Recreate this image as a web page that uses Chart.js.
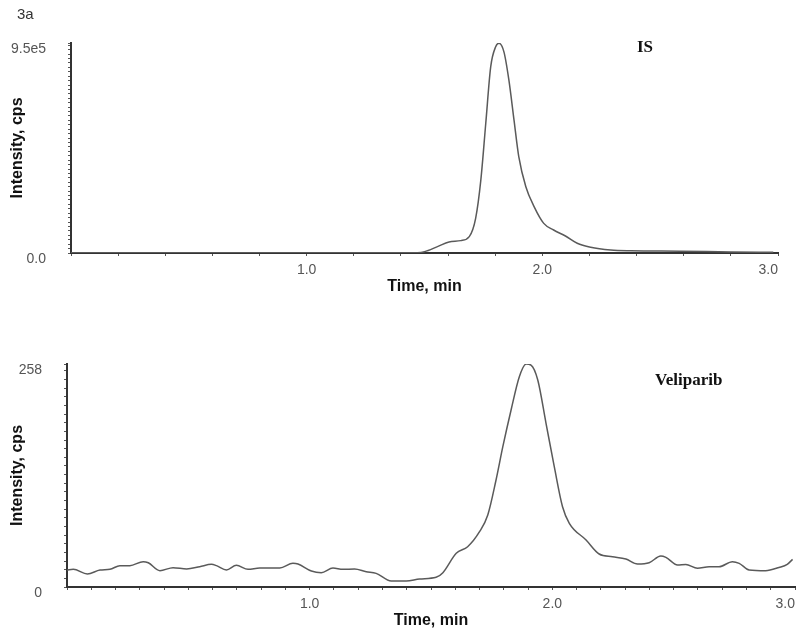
<!DOCTYPE html>
<html>
<head>
<meta charset="utf-8">
<script src="https://cdn.jsdelivr.net/npm/chart.js@4/dist/chart.umd.min.js"></script>
<style>
  html, body { margin: 0; padding: 0; background: #fff; }
  #wrap { position: relative; width: 800px; height: 636px; overflow: hidden; }
  canvas { position: absolute; left: 0; }
  .note { position: absolute; white-space: nowrap; }
</style>
</head>
<body>
<div id="wrap">
  <canvas id="c1" width="800" height="300" style="top:0"></canvas>
  <canvas id="c2" width="800" height="336" style="top:300px"></canvas>
  <div class="note" style="left:17px;top:5px;font:15px 'Liberation Sans',Arial,sans-serif;color:#333;">3a</div>
  <div class="note" style="left:637px;top:37px;font:bold 17px 'Liberation Serif','Times New Roman',serif;color:#111;">IS</div>
  <div class="note" style="left:655px;top:370px;font:bold 17px 'Liberation Serif','Times New Roman',serif;color:#111;">Veliparib</div>
</div>
<script>
// ---- Data ----
const isTime = [0, 0.3, 0.6, 0.9, 1.2, 1.40, 1.47, 1.50, 1.555, 1.604, 1.654, 1.69, 1.717, 1.739, 1.76, 1.781, 1.802, 1.816, 1.837, 1.858, 1.88, 1.90, 1.93, 1.965, 2.006, 2.048, 2.098, 2.148, 2.205, 2.29, 2.375, 2.585, 2.80, 2.98];
const isIntensity = [1000, 1000, 1000, 1500, 1000, 800, 1500, 6000, 29000, 50000, 56000, 74000, 157000, 330000, 587000, 843000, 933000, 949000, 910000, 783000, 600000, 436000, 300000, 210000, 134000, 104000, 77000, 44000, 26000, 13600, 10000, 8000, 5000, 3000];

const velTime = [0, 0.026, 0.084, 0.136, 0.177, 0.218, 0.259, 0.314, 0.335, 0.383, 0.437, 0.493, 0.547, 0.595, 0.616, 0.657, 0.698, 0.746, 0.794, 0.877, 0.931, 0.952, 1.007, 1.048, 1.096, 1.137, 1.185, 1.233, 1.274, 1.336, 1.398, 1.453, 1.521, 1.549, 1.604, 1.651, 1.70, 1.734, 1.768, 1.796, 1.83, 1.864, 1.892, 1.912, 1.94, 1.974, 2.008, 2.042, 2.07, 2.139, 2.193, 2.248, 2.303, 2.351, 2.399, 2.447, 2.468, 2.516, 2.55, 2.598, 2.646, 2.687, 2.742, 2.77, 2.811, 2.879, 2.934, 2.968, 2.99];
const velIntensity = [19.7, 20.5, 15, 19.7, 20.5, 24.7, 24.7, 29.3, 28, 18.9, 22.4, 20.8, 23.5, 26.2, 24.7, 19.7, 25.1, 20.5, 21.9, 21.9, 27.4, 26.6, 18.5, 16.6, 21.9, 20.5, 20.8, 17.7, 15.8, 6.9, 6.9, 9.3, 11.2, 16.6, 39, 46.6, 64, 83.3, 123.8, 162.3, 204.8, 243.3, 258, 256.8, 239.5, 189.4, 139.2, 92.9, 73.7, 54.4, 38.2, 35, 32.4, 26.6, 28.1, 35.9, 34.3, 25.5, 26, 21.6, 23.3, 23.3, 29.3, 27.4, 19.7, 18.9, 22.6, 26.2, 32];

const xLabelTicks = [1.0, 2.0, 3.0];
const isYMax = 950000, isYLabels = {950000: '9.5e5', 0: '0.0'};
const velYMax = 258, velYLabels = {258: '258', 0: '0'};

// ---- Helpers ----
const tickFont = {family: "'Liberation Sans', Arial, sans-serif", size: 14};
const titleFont = {family: "'Liberation Sans', Arial, sans-serif", size: 16, weight: 'bold'};

function makeTicks(step, max) {
  const arr = [];
  const n = Math.floor(max / step + 1e-9);
  for (let i = 0; i <= n; i++) arr.push({value: +(i * step).toFixed(6)});
  if (Math.abs(arr[arr.length - 1].value - max) > 1e-9) arr.push({value: max});
  return arr;
}

function makeChart(id, times, vals, yMax, yLabels, xStep, yStep, cfg) {
  return new Chart(document.getElementById(id), {
    type: 'line',
    data: {
      datasets: [{
        data: times.map((t, i) => ({x: t, y: vals[i]})),
        borderColor: '#5a5a5a',
        borderWidth: 1.5,
        pointRadius: 0,
        cubicInterpolationMode: 'monotone',
        fill: false
      }]
    },
    options: {
      responsive: false,
      animation: false,
      devicePixelRatio: 1,
      layout: {padding: {top: cfg.padTop, right: cfg.padRight, left: 0, bottom: 0}},
      plugins: {legend: {display: false}, tooltip: {enabled: false}},
      scales: {
        x: {
          type: 'linear', min: 0, max: 3,
          afterBuildTicks: s => { s.ticks = makeTicks(xStep, 3); },
          afterFit: s => { s.height = cfg.xHeight; s.paddingLeft = 0; s.paddingRight = 0; },
          ticks: {
            autoSkip: false, maxRotation: 0, align: 'inner', padding: 6,
            font: tickFont, color: '#555',
            callback: v => xLabelTicks.some(t => Math.abs(t - v) < 1e-6) ? v.toFixed(1) : ''
          },
          grid: {drawOnChartArea: false, drawTicks: true, tickLength: 3, color: '#555'},
          border: {display: true, color: '#333', width: 2},
          title: {display: true, text: 'Time, min', font: titleFont, color: '#111', padding: {top: 0, bottom: cfg.xTitlePad}}
        },
        y: {
          type: 'linear', min: 0, max: yMax,
          afterBuildTicks: s => { s.ticks = makeTicks(yStep, yMax); },
          afterFit: s => { s.width = cfg.yWidth; s.paddingTop = 0; s.paddingBottom = 0; },
          ticks: {
            autoSkip: false, padding: 22, labelOffset: 6,
            font: tickFont, color: '#555',
            callback: v => (yLabels[v] !== undefined ? yLabels[v] : '')
          },
          grid: {drawOnChartArea: false, drawTicks: true, tickLength: 3, color: '#555'},
          border: {display: true, color: '#333', width: 2},
          title: {display: true, text: 'Intensity, cps', font: titleFont, color: '#111', padding: {top: 8, bottom: 0}}
        }
      }
    }
  });
}

makeChart('c1', isTime, isIntensity, isYMax, isYLabels, 0.2, 20000,
  {padTop: 43, padRight: 22, xHeight: 47, yWidth: 71, xTitlePad: 4});
makeChart('c2', velTime, velIntensity, velYMax, velYLabels, 0.1, 10,
  {padTop: 64, padRight: 5, xHeight: 49, yWidth: 67, xTitlePad: 6});
</script>
</body>
</html>
